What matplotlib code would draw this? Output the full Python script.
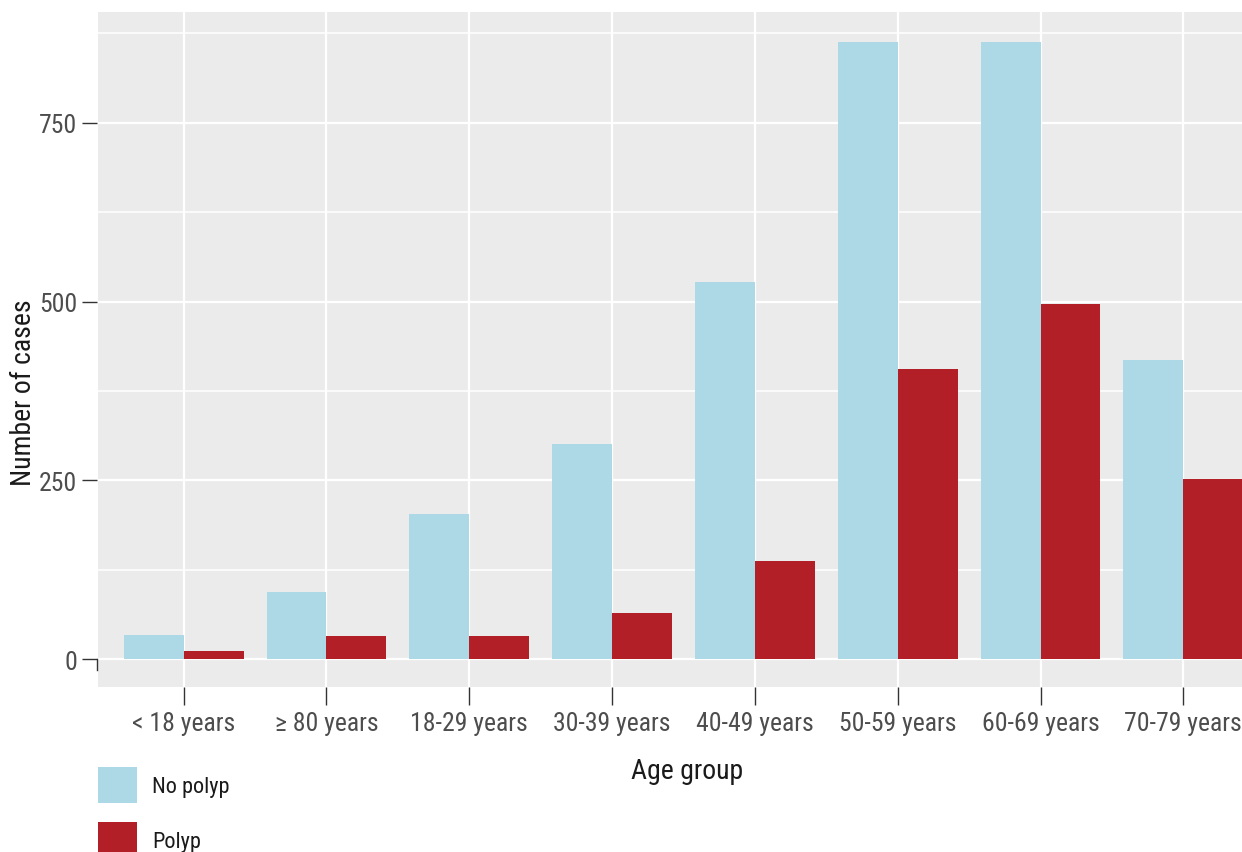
import numpy as np
import matplotlib.pyplot as plt
from matplotlib.ticker import MultipleLocator

# Data
age_groups = ['< 18 years', '≥ 80 years', '18-29 years', '30-39 years',
              '40-49 years', '50-59 years', '60-69 years', '70-79 years']
no_polyp = [34, 94, 203, 301, 527, 863, 863, 418]
polyp = [11, 32, 32, 64, 137, 406, 497, 252]
series_names = ['No polyp', 'Polyp']
colors = ['#ADD8E6', '#B31F27']

plt.rcParams['font.family'] = ['Liberation Sans Narrow', 'Roboto Condensed', 'DejaVu Sans']

fig = plt.figure(figsize=(12.42, 8.53), dpi=100)
# the panel runs past the right edge of the figure, like the cropped original
ax = fig.add_axes([98 / 1242, 165 / 853, 1171 / 1242, 675 / 853])
ax.set_facecolor('#EBEBEB')

x = np.arange(len(age_groups))
w = 0.42
b1 = ax.bar(x - w / 2, no_polyp, width=w, color=colors[0], label=series_names[0], zorder=3)
b2 = ax.bar(x + w / 2, polyp, width=w, color=colors[1], label=series_names[1], zorder=3)

ax.set_xlim(-0.6, 7.6)
ax.set_ylim(-39, 905)
ax.set_xticks(x)
ax.set_xticklabels(age_groups)
ax.yaxis.set_major_locator(MultipleLocator(250))
ax.yaxis.set_minor_locator(MultipleLocator(125))

# white grid, ggplot style
ax.grid(which='major', color='white', lw=1.6, zorder=1)
ax.grid(which='minor', axis='y', color='white', lw=1.1, zorder=1)
ax.set_axisbelow(True)

for s in ['top', 'right', 'bottom']:
    ax.spines[s].set_visible(False)
ax.spines['left'].set_bounds(-15, 0)
ax.spines['left'].set_color('#333333')
ax.spines['left'].set_linewidth(1.0)
ax.spines['left'].set_position(('outward', 1))

ax.tick_params(axis='both', which='major', length=11, width=1.0, color='#333333',
               labelsize=18.5, labelcolor='#4D4D4D', pad=3, top=False, right=False)
ax.tick_params(axis='y', which='minor', length=0, left=False, right=False)
ax.tick_params(axis='x', which='major', length=13, pad=4)

ax.set_xlabel('Age group', fontsize=20, color='#1A1A1A')
ax.set_ylabel('Number of cases', fontsize=20, color='#1A1A1A')
ax.xaxis.set_label_coords((687 - 98) / 1171, -70 / 675)
ax.yaxis.set_label_coords(-61 / 1171, (688 - 393) / 675)

fig.legend(handles=[b1, b2], labels=series_names, loc='upper left',
           bbox_to_anchor=(98 / 1242, 1 - 768 / 853), frameon=False,
           fontsize=16, handlelength=1.75, handleheight=2.1, labelspacing=0.88,
           handletextpad=0.7, borderpad=0, borderaxespad=0, labelcolor='#1A1A1A')

fig.savefig('out.png', dpi=100)
